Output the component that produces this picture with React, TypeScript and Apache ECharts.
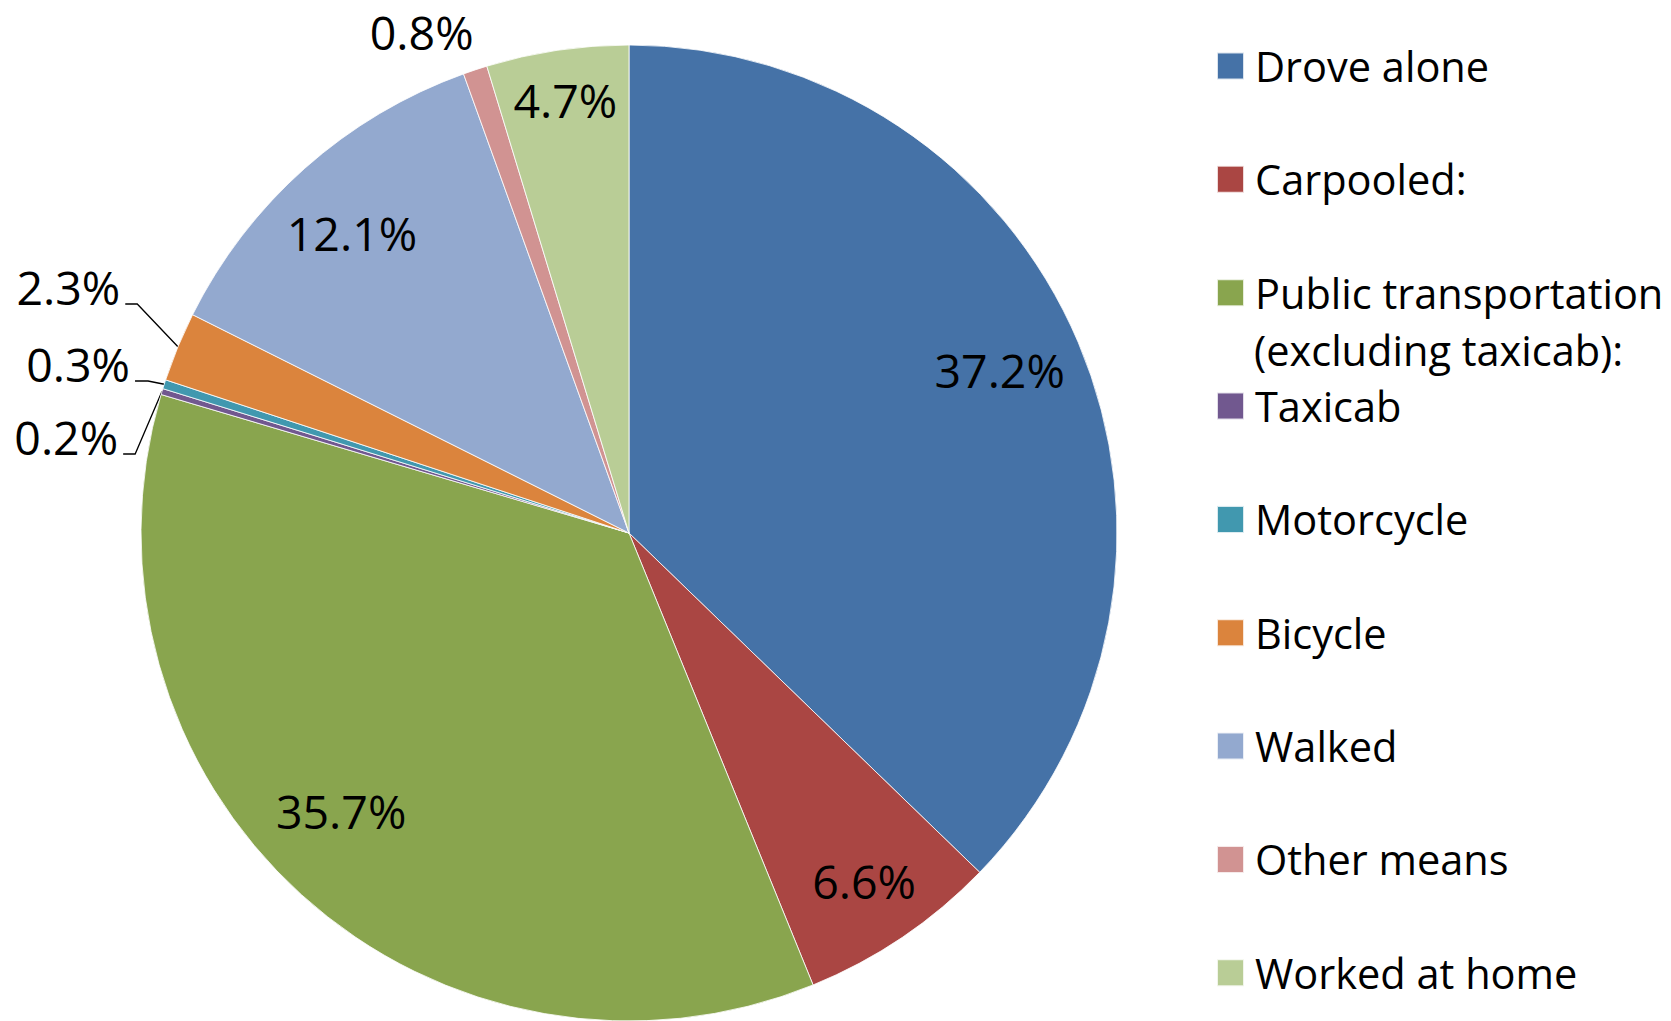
import React, { useEffect, useRef } from 'react';
import * as echarts from 'echarts';

// ---- data ----
const categoryLines: string[][] = [
  ['Drove alone'],
  ['Carpooled:'],
  ['Public transportation', '(excluding taxicab):'],
  ['Taxicab'],
  ['Motorcycle'],
  ['Bicycle'],
  ['Walked'],
  ['Other means'],
  ['Worked at home'],
];
const categories = categoryLines.map((l) => l.join(' '));
const shares = [37.2, 6.6, 35.7, 0.2, 0.3, 2.3, 12.1, 0.8, 4.7];
const colors = ['#4572A7', '#AA4643', '#89A54E', '#71588F', '#4198AF', '#DB843D', '#93A9CF', '#D19392', '#B9CD96'];
// where each value label sits: 'mid' ring, 'outer' ring, 'leader' (outside with line), 'top' (outside, no line)
const labelPlace = ['mid', 'outer', 'mid', 'leader', 'leader', 'leader', 'mid', 'top', 'outer'];

// ---- layout ----
const FONT = "'Open Sans', 'Noto Sans', sans-serif";
const CX = 629;
const CY = 533;
const R = 488;
const LABEL_SIZE = 46.5;
const LEGEND_SIZE = 41.5;
// leader lines of the small slices: radial length, horizontal length, height of the horizontal part
const leaderLine: Record<number, { length: number; length2: number; lineY: number }> = {
  3: { length: 28, length2: 12, lineY: 454 },
  4: { length: 17, length2: 13, lineY: 381 },
  5: { length: 44, length2: 12, lineY: 304 },
};
// small refinements of label placement [dx, dy]
const labelNudge: Record<number, [number, number]> = {
  0: [-5, -4],
  1: [-7, -10],
  2: [-14, -24],
  6: [-6, 5],
  7: [12, -12],
  8: [0, -5],
};

export default function App() {
  const ref = useRef<HTMLDivElement>(null);
  useEffect(() => {
    if (!ref.current) return;
    const chart = echarts.init(ref.current, undefined, { renderer: 'svg' });
    const fmt = (p: any) => `${Number(p.value).toFixed(1)}%`;
    const legendTop = 45;
    const legendPitch = 112.85;
    const extraText: any[] = [];
    categoryLines.forEach((lines, i) => {
      lines.slice(1).forEach((t, k) => {
        extraText.push({
          type: 'text',
          x: 1254,
          y: 67 + i * legendPitch + (k + 1) * 57,
          silent: true,
          style: { text: t, fontFamily: FONT, fontSize: LEGEND_SIZE, fill: '#000', verticalAlign: 'middle', align: 'left' },
        });
      });
    });
    const nudge = (p: any) => {
      const n = labelNudge[p.dataIndex];
      return n ? { dx: n[0], dy: n[1] } : {};
    };
    const overlay = (inner: number, place: string) => ({
      type: 'pie',
      center: [CX, CY],
      radius: [R * inner, R],
      startAngle: 90,
      clockwise: true,
      silent: true,
      itemStyle: { color: 'rgba(0,0,0,0)', borderWidth: 0 },
      label: { position: 'inside', formatter: fmt, fontFamily: FONT, fontSize: LABEL_SIZE, color: '#000' },
      labelLine: { show: false },
      labelLayout: nudge,
      data: categories.map((name, i) => {
        const item: any = { name, value: shares[i], label: { show: labelPlace[i] === place } };
        if (place === 'mid' && labelPlace[i] === 'top') {
          item.label = { show: true, position: 'outside' };
          item.labelLine = { show: false, length: 27, length2: 0 };
        }
        return item;
      }),
    });
    chart.setOption({
      animation: false,
      backgroundColor: '#fff',
      legend: {
        orient: 'vertical',
        left: 1216,
        top: legendTop,
        padding: 0,
        itemWidth: 27,
        itemHeight: 27,
        itemGap: legendPitch - LEGEND_SIZE,
        icon: 'rect',
        selectedMode: false,
        data: categories,
        formatter: (name: string) => categoryLines[categories.indexOf(name)][0],
        textStyle: { fontFamily: FONT, fontSize: LEGEND_SIZE, color: '#000', lineHeight: LEGEND_SIZE, padding: [0, 0, 0, 6] },
      },
      graphic: extraText,
      series: [
        {
          type: 'pie',
          center: [CX, CY],
          radius: [0, R],
          startAngle: 90,
          clockwise: true,
          silent: true,
          avoidLabelOverlap: false,
          itemStyle: { borderColor: 'rgba(255,255,255,0.8)', borderWidth: 1 },
          label: {
            position: 'outside',
            formatter: fmt,
            fontFamily: FONT,
            fontSize: LABEL_SIZE,
            color: '#000',
            width: 110,
            overflow: 'none',
            distanceToLabelLine: 5,
          },
          labelLine: { show: true, length: 20, length2: 12, lineStyle: { color: '#000', width: 1.3 } },
          labelLayout: (p: any) => {
            const cfg = leaderLine[p.dataIndex];
            const pts = p.labelLinePoints;
            if (!cfg || !pts || pts.length < 3) return {};
            return {
              y: cfg.lineY - 17,
              labelLinePoints: [pts[0], [pts[1][0], cfg.lineY], [pts[2][0], cfg.lineY]],
            };
          },
          data: categories.map((name, i) => ({
            name,
            value: shares[i],
            itemStyle: { color: colors[i] },
            label: { show: labelPlace[i] === 'leader' },
            labelLine: leaderLine[i]
              ? { show: true, length: leaderLine[i].length, length2: leaderLine[i].length2 }
              : { show: false },
          })),
        },
        overlay(0.66, 'mid'),
        overlay(0.76, 'outer'),
      ],
    });
    return () => chart.dispose();
  }, []);
  return <div ref={ref} style={{ position: 'fixed', left: 0, top: 0, width: 1671, height: 1021 }} />;
}
